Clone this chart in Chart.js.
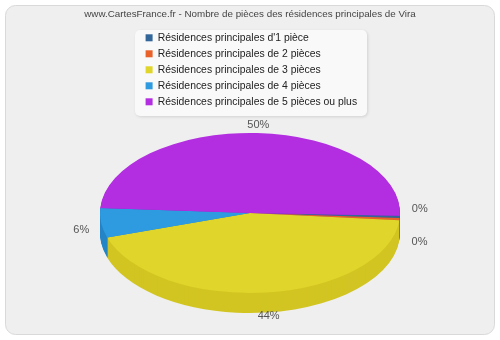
<!DOCTYPE html>
<html>
<head>
<meta charset="utf-8">
<script src="https://cdn.jsdelivr.net/npm/chart.js"></script>
<style>
  html, body { margin:0; padding:0; background:#fff; }
  #wrap { width:500px; height:340px; }
</style>
</head>
<body>
<div id="wrap"><canvas id="pie" width="500" height="340"></canvas></div>
<script>
/* ---------- data */
const TITLE   = 'www.CartesFrance.fr - Nombre de pièces des résidences principales de Vira';
const LABELS  = ['Résidences principales d\'1 pièce',
                 'Résidences principales de 2 pièces',
                 'Résidences principales de 3 pièces',
                 'Résidences principales de 4 pièces',
                 'Résidences principales de 5 pièces ou plus'];
const VALUES  = [0.45, 0.45, 44, 6, 50];          // shares in %
const COLORS  = ['#336699', '#e8622a', '#e0d52a', '#2e9ae0', '#b22ee0'];
const SIDES   = ['#2a5580', '#c44f1f', '#d2c522', '#2585c6', '#9a24c4'];

const FONT  = '"Liberation Sans", Arial, sans-serif';
const FSIZE = 10.4;
const DEPTH = 20;      // thickness of the 3d rim
const SX    = 1.875;   // horizontal stretch -> ellipse

/* ---------- panel, title and legend box behind everything */
const panelBg = {
  id:'panelBg',
  beforeDraw(chart){
    const c = chart.ctx;
    c.save();
    c.fillStyle = '#fff'; c.fillRect(0,0,chart.width,chart.height);
    c.beginPath(); c.roundRect(5.5,5.5,489,329,10);
    c.fillStyle = '#efefef'; c.fill();
    c.strokeStyle = '#d9d9d9'; c.lineWidth = 1; c.stroke();
    // title (drawn here so it is not squeezed into the narrow layout)
    c.font = '9.8px ' + FONT;
    c.fillStyle = '#444'; c.textAlign = 'center'; c.textBaseline = 'middle';
    c.fillText(TITLE, 250, 14);
    // legend box
    c.shadowColor = 'rgba(0,0,0,0.12)'; c.shadowBlur = 3;
    c.shadowOffsetX = 1; c.shadowOffsetY = 1;
    c.beginPath(); c.roundRect(135,30,232,86,5);
    c.fillStyle = '#f9f9f9'; c.fill();
    c.restore();
  }
};

/* ---------- squash into an ellipse and draw the rim */
const pie3d = {
  id:'pie3d',
  beforeDatasetsDraw(chart){
    const c = chart.ctx;
    const arcs = chart.getDatasetMeta(0).data;
    const {x:cx, y:cy} = arcs[0].getProps(['x','y']);
    c.save();
    c.translate(cx, cy); c.scale(SX, 1); c.translate(-cx, -cy);
    for (let d = DEPTH; d >= 1; d--) {
      arcs.forEach((a,i)=>{
        const p = a.getProps(['x','y','startAngle','endAngle','outerRadius']);
        c.beginPath();
        c.moveTo(p.x, p.y + d);
        c.arc(p.x, p.y + d, p.outerRadius, p.startAngle, p.endAngle);
        c.closePath();
        c.fillStyle = SIDES[i]; c.fill();
      });
    }
  },
  afterDatasetsDraw(chart){
    const c = chart.ctx;
    c.restore();
    // percentage labels around the ellipse
    const arcs = chart.getDatasetMeta(0).data;
    const total = VALUES.reduce((s,v)=>s+v,0);
    const pts = [];
    arcs.forEach((a,i)=>{
      const p = a.getProps(['x','y','startAngle','endAngle','outerRadius']);
      const mid = (p.startAngle + p.endAngle)/2;
      const cs = Math.cos(mid), sn = Math.sin(mid);
      let x = p.x + cs*(p.outerRadius*SX + 20);
      let y = p.y + sn*(p.outerRadius + 8) + (sn > 0 ? Math.sqrt(sn)*DEPTH*0.8 : 0);
      const prev = pts[pts.length-1];
      if (prev && Math.abs(prev.y - y) < 16 && Math.abs(prev.x - x) < 40) {
        prev.y -= 12; y = prev.y + 33;
      }
      pts.push({x, y, t: Math.round(VALUES[i]/total*100) + '%'});
    });
    c.save();
    c.font = '11px ' + FONT;
    c.fillStyle = '#555';
    c.textAlign = 'center'; c.textBaseline = 'middle';
    pts.forEach(p=>c.fillText(p.t, p.x, p.y));
    c.restore();
  }
};

new Chart(document.getElementById('pie'), {
  type:'pie',
  data:{
    labels: LABELS,
    datasets:[{
      data: VALUES,
      backgroundColor: COLORS,
      borderWidth: 0,
      radius: 80
    }]
  },
  options:{
    responsive:false,
    animation:false,
    rotation: 92,
    layout:{ padding:{ left:140, right:140, top:27, bottom:31 } },
    plugins:{
      title:{ display:false },
      legend:{
        position:'top', align:'start',
        labels:{
          boxWidth:7, boxHeight:7, padding:5.6, color:'#222',
          font:{ family:FONT, size:FSIZE }
        }
      },
      tooltip:{ enabled:false }
    }
  },
  plugins:[panelBg, pie3d]
});
</script>
</body>
</html>
